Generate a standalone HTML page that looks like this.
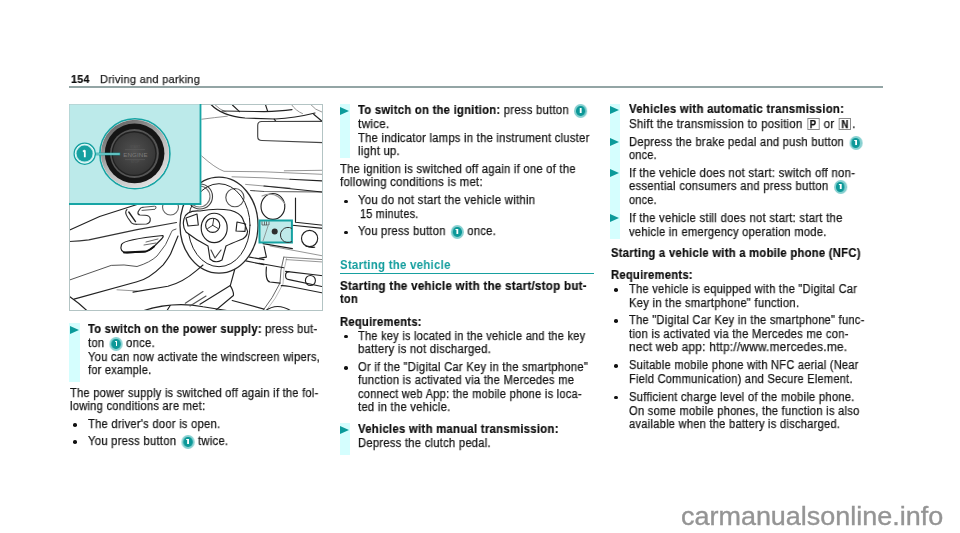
<!DOCTYPE html>
<html><head><meta charset="utf-8"><style>
html,body{margin:0;padding:0;background:#fff;}
body{width:960px;height:533px;position:relative;overflow:hidden;font-family:"Liberation Sans",sans-serif;color:#151515;}
.l{position:absolute;white-space:nowrap;transform-origin:0 0;line-height:20px;will-change:transform;-webkit-text-stroke-width:0.25px;letter-spacing:0.3px;}
.l b{font-weight:bold;color:#0d0d0d;-webkit-text-stroke-width:0.2px;}
.bd{display:inline-block;width:14px;height:13.6px;border-radius:50%;background:#86d0d0;vertical-align:-3.6px;position:relative;margin:0 0 0 2px;-webkit-text-stroke-width:0;}
.bd i{position:absolute;left:2.2px;top:2px;width:9.6px;height:9.6px;border-radius:50%;background:#0c9898;}
.bd i:after{content:"";position:absolute;left:4.1px;top:2.3px;width:1.8px;height:5px;background:#fff;}
.bd i:before{content:"";position:absolute;left:3.2px;top:2.3px;width:1.5px;height:1.2px;background:#fff;}
.kb{display:inline-block;box-sizing:border-box;width:13px;height:12.2px;border:1px solid #8a8a8a;font-weight:bold;font-size:10px;line-height:11px;text-align:center;vertical-align:baseline;color:#111;margin:0 1px;}
.bar{position:absolute;background:#d5fefe;}
.tri{position:absolute;width:0;height:0;border-left:9px solid #0b9a9a;border-top:4.2px solid transparent;border-bottom:4.2px solid transparent;}
.dot{position:absolute;width:3.6px;height:3.6px;border-radius:50%;background:#111;}
</style></head><body>

<div class="bar" style="left:69.1px;top:323.1px;width:10.5px;height:59.1px"></div>
<div class="bar" style="left:339.6px;top:103.7px;width:10.5px;height:54.7px"></div>
<div class="bar" style="left:339.6px;top:423.3px;width:10.5px;height:31.7px"></div>
<div class="bar" style="left:609.9px;top:103.7px;width:10.6px;height:135.5px"></div>
<div class="tri" style="left:69.6px;top:326.0px"></div>
<div class="tri" style="left:340.2px;top:106.6px"></div>
<div class="tri" style="left:340.2px;top:425.8px"></div>
<div class="tri" style="left:610.4px;top:105.6px"></div>
<div class="tri" style="left:610.4px;top:137.9px"></div>
<div class="tri" style="left:610.4px;top:169.1px"></div>
<div class="tri" style="left:610.4px;top:214.1px"></div>
<div class="dot" style="left:73.0px;top:423.2px"></div>
<div class="dot" style="left:73.0px;top:440.4px"></div>
<div class="dot" style="left:344.0px;top:199.5px"></div>
<div class="dot" style="left:344.0px;top:230.8px"></div>
<div class="dot" style="left:344.0px;top:334.9px"></div>
<div class="dot" style="left:344.0px;top:366.1px"></div>
<div class="dot" style="left:614.4px;top:288.1px"></div>
<div class="dot" style="left:614.4px;top:319.4px"></div>
<div class="dot" style="left:614.4px;top:364.4px"></div>
<div class="dot" style="left:614.4px;top:395.9px"></div>
<div style="position:absolute;left:69px;top:86.4px;width:814px;height:1.4px;background:#93a5a5"></div>
<div style="position:absolute;left:340.2px;top:272.9px;width:254px;height:1.6px;background:#17a0a0"></div>
<div class="l" id="l0" style="left:70.8px;top:69.17px;font-size:11.6px;color:#222;transform:scaleX(0.9235)"><b>154</b></div>
<div class="l" id="l1" style="left:100.4px;top:69.17px;font-size:11.6px;color:#222;transform:scaleX(0.9489)">Driving and parking</div>
<div class="l" id="l2" style="left:87.7px;top:319.13px;font-size:12.0px;transform:scaleX(0.9271)"><b>To switch on the power supply:</b> press but-</div>
<div class="l" id="l3" style="left:87.7px;top:333.13px;font-size:12.0px;transform:scaleX(0.9344)">ton <span class="bd"><i></i></span> once.</div>
<div class="l" id="l4" style="left:87.7px;top:347.03px;font-size:12.0px;transform:scaleX(0.9241)">You can now activate the windscreen wipers,</div>
<div class="l" id="l5" style="left:87.7px;top:360.33px;font-size:12.0px;transform:scaleX(0.9119)">for example.</div>
<div class="l" id="l6" style="left:69.6px;top:382.73px;font-size:12.0px;transform:scaleX(0.9195)">The power supply is switched off again if the fol-</div>
<div class="l" id="l7" style="left:69.6px;top:396.43px;font-size:12.0px;transform:scaleX(0.9239)">lowing conditions are met:</div>
<div class="l" id="l8" style="left:87.7px;top:414.23px;font-size:12.0px;transform:scaleX(0.9263)">The driver's door is open.</div>
<div class="l" id="l9" style="left:87.7px;top:431.43px;font-size:12.0px;transform:scaleX(0.9349)">You press button <span class="bd"><i></i></span> twice.</div>
<div class="l" id="l10" style="left:358.3px;top:99.73px;font-size:12.0px;transform:scaleX(0.9354)"><b>To switch on the ignition:</b> press button <span class="bd"><i></i></span></div>
<div class="l" id="l11" style="left:358.3px;top:113.53px;font-size:12.0px;transform:scaleX(0.9751)">twice.</div>
<div class="l" id="l12" style="left:358.3px;top:127.63px;font-size:12.0px;transform:scaleX(0.9300)">The indicator lamps in the instrument cluster</div>
<div class="l" id="l13" style="left:358.3px;top:140.63px;font-size:12.0px;transform:scaleX(0.9375)">light up.</div>
<div class="l" id="l14" style="left:340.2px;top:159.13px;font-size:12.0px;transform:scaleX(0.9296)">The ignition is switched off again if one of the</div>
<div class="l" id="l15" style="left:340.2px;top:171.93px;font-size:12.0px;transform:scaleX(0.9456)">following conditions is met:</div>
<div class="l" id="l16" style="left:358.3px;top:190.13px;font-size:12.0px;transform:scaleX(0.9389)">You do not start the vehicle within</div>
<div class="l" id="l17" style="left:360.0px;top:203.83px;font-size:12.0px;transform:scaleX(0.8955)">15 minutes.</div>
<div class="l" id="l18" style="left:358.3px;top:221.43px;font-size:12.0px;transform:scaleX(0.9283)">You press button <span class="bd"><i></i></span> once.</div>
<div class="l" id="l19" style="left:340.2px;top:254.60px;font-size:13.0px;color:#129d9d;font-weight:bold;-webkit-text-stroke-width:0;transform:scaleX(0.8784)">Starting the vehicle</div>
<div class="l" id="l20" style="left:340.2px;top:276.23px;font-size:12.0px;transform:scaleX(0.9612)"><b>Starting the vehicle with the start/stop but-</b></div>
<div class="l" id="l21" style="left:340.2px;top:289.43px;font-size:12.0px;transform:scaleX(0.9161)"><b>ton</b></div>
<div class="l" id="l22" style="left:340.2px;top:311.63px;font-size:12.0px;transform:scaleX(0.9305)"><b>Requirements:</b></div>
<div class="l" id="l23" style="left:358.3px;top:325.83px;font-size:12.0px;transform:scaleX(0.9129)">The key is located in the vehicle and the key</div>
<div class="l" id="l24" style="left:358.3px;top:339.03px;font-size:12.0px;transform:scaleX(0.9383)">battery is not discharged.</div>
<div class="l" id="l25" style="left:358.3px;top:357.03px;font-size:12.0px;transform:scaleX(0.9295)">Or if the "Digital Car Key in the smartphone"</div>
<div class="l" id="l26" style="left:358.3px;top:370.23px;font-size:12.0px;transform:scaleX(0.9302)">function is activated via the Mercedes me</div>
<div class="l" id="l27" style="left:358.3px;top:383.63px;font-size:12.0px;transform:scaleX(0.9173)">connect web App: the mobile phone is loca-</div>
<div class="l" id="l28" style="left:358.3px;top:396.93px;font-size:12.0px;transform:scaleX(0.9337)">ted in the vehicle.</div>
<div class="l" id="l29" style="left:358.3px;top:418.73px;font-size:12.0px;transform:scaleX(0.9426)"><b>Vehicles with manual transmission:</b></div>
<div class="l" id="l30" style="left:358.3px;top:433.43px;font-size:12.0px;transform:scaleX(0.9300)">Depress the clutch pedal.</div>
<div class="l" id="l31" style="left:629.4px;top:99.13px;font-size:12.0px;transform:scaleX(0.9414)"><b>Vehicles with automatic transmission:</b></div>
<div class="l" id="l32" style="left:629.4px;top:114.03px;font-size:12.0px;transform:scaleX(0.9486)">Shift the transmission to position <span class="kb">P</span> or <span class="kb">N</span>.</div>
<div class="l" id="l33" style="left:629.4px;top:131.83px;font-size:12.0px;transform:scaleX(0.9269)">Depress the brake pedal and push button <span class="bd"><i></i></span></div>
<div class="l" id="l34" style="left:629.4px;top:144.63px;font-size:12.0px;transform:scaleX(0.9027)">once.</div>
<div class="l" id="l35" style="left:629.4px;top:162.73px;font-size:12.0px;transform:scaleX(0.9384)">If the vehicle does not start: switch off non-</div>
<div class="l" id="l36" style="left:629.4px;top:176.43px;font-size:12.0px;transform:scaleX(0.9367)">essential consumers and press button <span class="bd"><i></i></span></div>
<div class="l" id="l37" style="left:629.4px;top:189.83px;font-size:12.0px;transform:scaleX(0.9027)">once.</div>
<div class="l" id="l38" style="left:629.4px;top:207.93px;font-size:12.0px;transform:scaleX(0.9372)">If the vehicle still does not start: start the</div>
<div class="l" id="l39" style="left:629.4px;top:221.63px;font-size:12.0px;transform:scaleX(0.9251)">vehicle in emergency operation mode.</div>
<div class="l" id="l40" style="left:610.8px;top:242.93px;font-size:12.0px;transform:scaleX(0.9344)"><b>Starting a vehicle with a mobile phone (NFC)</b></div>
<div class="l" id="l41" style="left:610.8px;top:264.73px;font-size:12.0px;transform:scaleX(0.9316)"><b>Requirements:</b></div>
<div class="l" id="l42" style="left:629.4px;top:278.63px;font-size:12.0px;transform:scaleX(0.9206)">The vehicle is equipped with the "Digital Car</div>
<div class="l" id="l43" style="left:629.4px;top:292.53px;font-size:12.0px;transform:scaleX(0.9325)">Key in the smartphone" function.</div>
<div class="l" id="l44" style="left:629.4px;top:309.83px;font-size:12.0px;transform:scaleX(0.9222)">The "Digital Car Key in the smartphone" func-</div>
<div class="l" id="l45" style="left:629.4px;top:323.53px;font-size:12.0px;transform:scaleX(0.9278)">tion is activated via the Mercedes me con-</div>
<div class="l" id="l46" style="left:629.4px;top:336.93px;font-size:12.0px;transform:scaleX(0.9751)">nect web app: http://www.mercedes.me.</div>
<div class="l" id="l47" style="left:629.4px;top:355.13px;font-size:12.0px;transform:scaleX(0.9175)">Suitable mobile phone with NFC aerial (Near</div>
<div class="l" id="l48" style="left:629.4px;top:368.73px;font-size:12.0px;transform:scaleX(0.9169)">Field Communication) and Secure Element.</div>
<div class="l" id="l49" style="left:629.4px;top:386.83px;font-size:12.0px;transform:scaleX(0.9309)">Sufficient charge level of the mobile phone.</div>
<div class="l" id="l50" style="left:629.4px;top:400.53px;font-size:12.0px;transform:scaleX(0.9259)">On some mobile phones, the function is also</div>
<div class="l" id="l51" style="left:629.4px;top:413.83px;font-size:12.0px;transform:scaleX(0.9219)">available when the battery is discharged.</div>
<svg style="position:absolute;left:69px;top:104px" width="254" height="207" viewBox="69 104 254 207">
<defs>
<radialGradient id="face" cx="0.5" cy="0.45" r="0.6"><stop offset="0" stop-color="#505050"/><stop offset="1" stop-color="#333"/></radialGradient>
<linearGradient id="silver" x1="0.2" y1="0" x2="0.8" y2="1"><stop offset="0" stop-color="#5e5e5e"/><stop offset="0.5" stop-color="#b8b8b8"/><stop offset="1" stop-color="#e6e6e6"/></linearGradient>
<clipPath id="imgclip"><rect x="69" y="104" width="254" height="207"/></clipPath>
</defs>
<rect x="69" y="104" width="254" height="207" fill="#fff"/>
<g clip-path="url(#imgclip)" fill="none" stroke-linecap="round" stroke-linejoin="round">
<!-- top dashboard -->
<g stroke="#8a8a8a" stroke-width="0.9">
<path d="M214,104 Q220,110 226,112"/>
<path d="M291.4,104.5 Q296,111 302.5,113.6"/>
<path d="M310.6,104.5 Q315,110 322,112.1"/>
<path d="M201.8,119.2 Q215,117.5 227.3,116.2"/>
<path d="M201.8,156.1 Q215,168 224,171.3 L264,171.8 L322,174.3"/>
<path d="M284.3,170.8 L322,170.3"/>
<path d="M270.1,246 L323,255.9"/>
<path d="M283.8,257.1 Q280,270 280,283 Q273,298 262.7,311" stroke="#666" stroke-width="1"/>
<path d="M286.5,258.5 Q283,270 283,284 Q276,299 266,311" stroke="#aaa" stroke-width="0.8"/>
<path d="M283.8,257.1 L323,259.6" stroke="#777"/>
<path d="M286.2,259.6 L323,262"/>
<path d="M117,289.8 L137,291"/>
<path d="M69.9,279.9 L111.2,265.4 Q124,264 137,266.5 Q150,262.5 157,256 Q167,245 171.1,232.8 Q171,230 176,229" stroke="#555" stroke-width="1"/>
<path d="M232,176.8 L264,177.8 L290,179.3"/>
<path d="M245.6,184.4 L264,186 L290,188"/>
</g>
<g stroke="#222" stroke-width="1.15">
<path d="M211,104.5 Q222,116 245,118 L275,119 Q295,118 315,113"/>
<path d="M313.7,114.2 L322,121.2"/>
<path d="M222,111 L264,111.6 Q280,111 292,109.6"/>
<path d="M232.4,105 L239.5,111.6"/>
<path d="M265.6,105 L267.6,111.1"/>
<path d="M274.2,119.2 L275.7,121.2"/>
<path d="M323,121.3 L261.7,121.5 Q257.7,121.5 257.7,125.5 L257.7,136.5 Q257.7,140.5 262,140.5 L323,142.6" stroke="#444"/>
<path d="M290,179.3 L322,180.9"/>
<path d="M250.6,190.5 L264,191.5 L322,192" stroke="#555"/>
<path d="M264,186 L322,192"/>
<path d="M295.5,198 L295.5,222.3 L323,225.3"/>
<path d="M292.4,225.3 L323,228.4"/>
<circle cx="309.6" cy="238.5" r="8.1"/>
<path d="M263,243.6 L292.4,248.6"/>
<path d="M245.8,260.9 L264,264.6"/>
<path d="M249.5,257.1 L264,259.6"/>
<path d="M259,263.3 L283.8,267.7"/>
<path d="M234.7,269.5 L230.3,285.6 L200,304.2"/>
<path d="M230.3,285.6 Q234,292 233.4,295.5 L214.9,311"/>
<path d="M232.2,300.5 L264,309.1"/>
<path d="M285.6,271.4 L323,275.8"/>
<path d="M289,271.6 Q285.6,272 285.6,275 L285.6,276 Q285.6,279.4 289,279.6 L323,286.8"/>
<circle cx="310.4" cy="280.5" r="5"/>
<path d="M281.3,285.6 Q284,285.4 290,286.5 L323,293"/>
<path d="M266.4,267 Q265,281 270,282 L280,283.1"/>
<path d="M265.2,311 Q277,302 291.2,311"/>
<path d="M306,246 Q310,248 314.7,247.2"/>
<path d="M264,246 L266.4,257.1 L259,258.4"/>
<!-- gauges -->
<circle cx="234.9" cy="197.6" r="9.1" stroke="#555"/>
<ellipse cx="272.9" cy="206.4" rx="11.9" ry="12.9"/>
<path d="M262,196 Q276,190 285,204" stroke="#999"/>
<circle cx="170.5" cy="207" r="8" stroke="#666"/>
<circle cx="200" cy="196.5" r="12.5" stroke="#444"/>
<circle cx="199.5" cy="196.5" r="10.5" stroke="#777"/>
<!-- steering wheel -->
<ellipse cx="219" cy="225.2" rx="39" ry="48" stroke="#2a2a2a" stroke-width="1.3"/>
<ellipse cx="219" cy="225.2" rx="31" ry="41.5" stroke="#222" stroke-width="1"/>
<path d="M184,219 Q186,210 200,211 Q215,208 230.4,210.2 Q240,213 242.5,218.3 L247.6,231.4 Q247,238 240,240 Q230,244 226,246 L222,260 Q215,264 210,259 L208,246 Q196,240 186,232 Q182,226 184,219 Z" fill="#fff"/>
<path d="M186,218 L197,214 L198.3,225 L188,226 Z"/>
<path d="M237,222 L245.6,224 L245,231.4 L236,231 Z"/>
<ellipse cx="214.2" cy="227.9" rx="13" ry="14.7"/>
<circle cx="212.7" cy="225.3" r="7.1"/>
<path d="M212.7,225.3 L213.7,219 M212.7,225.3 L207.6,228.6 M212.7,225.3 L218.2,228.6" stroke-width="0.9"/>
<path d="M211,250 L215,258 L221,250" stroke="#444"/>
<!-- left door -->
<path d="M69.7,230.1 L99.6,216.5 L137,204.5"/>
<path d="M69.7,241.5 Q80,241 88.8,239.9 L137,229.6 L176.5,222.5" stroke="#333"/>
<path d="M127,209.5 Q124,212 128,218 L131.5,222.8 Q133,224.3 137,224.3 L146.5,224 Q150.8,223 150.2,218.5 Q149.5,215.5 145,215.3 L140,215 Q137.5,214.5 138,212 L139.5,209.5 Q140.5,207.5 143,207.3" stroke="#333"/>
<path d="M128.8,212 L135.5,221.6" stroke="#222" stroke-width="1.4"/>
<path d="M143,207.3 L154.4,206.2 Q156.5,206 156,208 L155,209.3 L142,210.4" stroke="#444" stroke-width="0.9"/>
<path d="M121.5,244.5 Q124,239.5 162.8,235.5 Q164,236 162,238.5 L152.5,248 Q148.5,251.5 144,252 L127,253 Q119,252 121.5,244.5 Z" stroke="#222" stroke-width="1.2"/>
<path d="M124,252.5 L146,251.5 Q150,250 154,246.5" stroke="#111" stroke-width="1.8"/>
<path d="M146,242 L158,239 M144,245 L156,243" stroke="#444" stroke-width="0.8"/>
<path d="M74,299.1 L137,281.7 Q149,279 163.2,264.8 Q170,256 171.4,252 L178,236"/>
<path d="M133,292.1 L167.9,286.3 Q183,282.2 196.4,270.6 L203,265"/>
<path d="M69.9,296.8 L78.6,303.2 L87.3,311"/>
<path d="M142.3,311 Q173,301 203,306.7 L230,311"/>
<path d="M170.2,305.5 L166.7,311"/>
<path d="M185.3,303.2 L203,291.5 M190,306 L206,296" stroke="#555"/>
</g>
</g>
<!-- border -->
<rect x="69.5" y="104.5" width="253" height="206" fill="none" stroke="#b3c4c4" stroke-width="1"/>
<!-- small highlight box -->
<rect x="259.5" y="220.5" width="32.4" height="22" fill="#b9e8e8" fill-opacity="0.9" stroke="#15a1a1" stroke-width="2"/>
<circle cx="274.7" cy="231.4" r="3" fill="#2e2e2e"/>
<path d="M292,228.5 A7.6,7.6 0 1 0 292,241.5" fill="none" stroke="#333" stroke-width="1"/>
<path d="M262,221.5 L262,225 L269,225 L269,221.5 M264.5,221.5 L264.5,225 M266.5,221.5 L266.5,225" fill="none" stroke="#444" stroke-width="0.7"/>
<path d="M268,226 L263,241" stroke="#777" stroke-width="0.7"/>
<!-- cyan inset -->
<rect x="69.5" y="104.5" width="131" height="99.5" fill="#bceaea"/>
<path d="M200.5,104 L200.5,204 L69,204" fill="none" stroke="#17a5a5" stroke-width="1.8"/>
<!-- button -->
<circle cx="134.9" cy="153.8" r="35" fill="#f0f0f0" stroke="#15a3a3" stroke-width="1.6"/>
<circle cx="134.9" cy="153.8" r="34" fill="url(#silver)"/>
<circle cx="134.6" cy="153.4" r="29.8" fill="#151515"/>
<circle cx="134.4" cy="153.5" r="24.4" fill="#555"/>
<circle cx="134.2" cy="153.5" r="22.6" fill="#202020"/>
<circle cx="134.1" cy="153.6" r="21.2" fill="url(#face)"/>
<path d="M125,149.6 L145,149.6 M125,159.6 L145,159.6" stroke="#5e5e5e" stroke-width="0.6"/>
<text x="135.5" y="157.2" font-family="Liberation Sans" font-size="6.2" fill="#7c7c7c" text-anchor="middle" letter-spacing="0.1">ENGINE</text>
<text x="135" y="147.8" font-family="Liberation Sans" font-size="3.2" fill="#555" text-anchor="middle">START</text>
<text x="135" y="163.2" font-family="Liberation Sans" font-size="3.2" fill="#555" text-anchor="middle">STOP</text>
<!-- leader + badge -->
<path d="M95,154 L120.2,154" stroke="#16a0a0" stroke-width="2.6"/>
<path d="M96,154 L119.6,154" stroke="#e8ffff" stroke-width="0.7"/>
<circle cx="84.7" cy="153.7" r="10.4" fill="#bae9e9" stroke="#16a0a0" stroke-width="1.6"/>
<circle cx="84.7" cy="153.7" r="9.5" fill="none" stroke="#f4ffff" stroke-width="0.9"/>
<circle cx="84.6" cy="153.6" r="8" fill="#16a0a0"/>
<path d="M84.8,150.2 L84.8,157.3 M84.8,150.2 L83,151.6" stroke="#fff" stroke-width="1.8" stroke-linecap="butt"/>
</svg>

<div class="l" id="wm" style="left:680.6px;top:501.04px;font-size:25px;line-height:30px;color:#949494;-webkit-text-stroke-width:0.35px;letter-spacing:0;transform:scaleX(1.0781)">carmanualsonline.info</div>
</body></html>
